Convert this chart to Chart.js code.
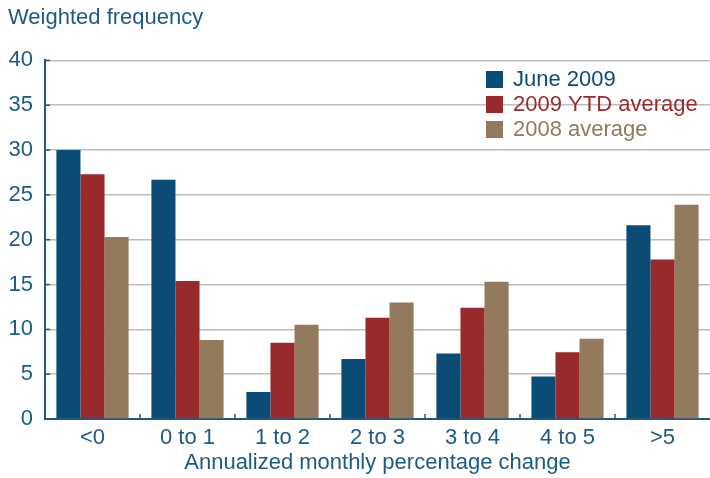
<!DOCTYPE html>
<html lang="en">
<head>
    <meta charset="UTF-8">
    <title>Weighted frequency</title>
    <style>
        html, body {
            margin: 0;
            padding: 0;
            background: #ffffff;
        }
        #wrap {
            position: relative;
            width: 710px;
            height: 478px;
        }
    </style>
    <script src="https://cdn.jsdelivr.net/npm/chart.js"></script>
</head>
<body>
    <div id="wrap">
        <canvas id="freqChart" width="710" height="478"></canvas>
    </div>

    <script>
        // chart data
        const categories = ['<0', '0 to 1', '1 to 2', '2 to 3', '3 to 4', '4 to 5', '>5'];
        const june2009 = [30.0, 26.7, 3.0, 6.7, 7.3, 4.75, 21.6];
        const ytd2009 = [27.3, 15.4, 8.5, 11.3, 12.4, 7.45, 17.8];
        const avg2008 = [20.3, 8.8, 10.5, 13.0, 15.3, 8.95, 23.9];
        const yTicks = [0, 5, 10, 15, 20, 25, 30, 35, 40];

        const textColor = '#1D5A85';
        const axisColor = '#1F5A84';
        const font = { family: '"Liberation Sans", Arial, sans-serif', size: 22 };

        // legend box drawn inside the plot, plus the little axis tick marks
        const extrasPlugin = {
            id: 'extras',
            afterDatasetsDraw(chart) {
                const ctx = chart.ctx;
                const x = chart.scales.x;
                const y = chart.scales.y;
                const area = chart.chartArea;
                ctx.save();

                // y tick marks pointing into the plot
                ctx.strokeStyle = axisColor;
                ctx.lineWidth = 1.5;
                yTicks.forEach(function (v) {
                    const py = y.getPixelForValue(v);
                    ctx.beginPath();
                    ctx.moveTo(area.left, py);
                    ctx.lineTo(area.left + 5, py);
                    ctx.stroke();
                });

                // x tick marks between categories, pointing up
                const step = x.getPixelForValue(1) - x.getPixelForValue(0);
                for (let i = 1; i < categories.length; i++) {
                    const px = x.getPixelForValue(i) - step / 2;
                    ctx.beginPath();
                    ctx.moveTo(px, area.bottom);
                    ctx.lineTo(px, area.bottom - 5);
                    ctx.stroke();
                }

                // legend
                ctx.font = font.size + 'px ' + font.family;
                ctx.textBaseline = 'middle';
                ctx.textAlign = 'left';
                chart.data.datasets.forEach(function (ds, i) {
                    const top = 71 + i * 25;
                    ctx.fillStyle = ds.backgroundColor;
                    ctx.fillRect(486, top, 17, 17);
                    ctx.fillText(ds.label, 513, top + 9);
                });
                ctx.restore();
            }
        };

        const ctx = document.getElementById('freqChart').getContext('2d');
        const freqChart = new Chart(ctx, {
            type: 'bar',
            data: {
                labels: categories,
                datasets: [{
                    label: 'June 2009',
                    data: june2009,
                    backgroundColor: '#0A4C76'
                }, {
                    label: '2009 YTD average',
                    data: ytd2009,
                    backgroundColor: '#982A2C'
                }, {
                    label: '2008 average',
                    data: avg2008,
                    backgroundColor: '#937A5D'
                }]
            },
            options: {
                responsive: false,
                animation: false,
                events: [],
                datasets: {
                    bar: {
                        barPercentage: 1.0,
                        categoryPercentage: 0.76
                    }
                },
                layout: {
                    padding: { left: 8, right: 0, top: 0, bottom: 0 }
                },
                scales: {
                    x: {
                        afterFit(scale) {
                            scale.height = 59;
                        },
                        grid: { display: false, drawTicks: false },
                        border: { display: true, color: axisColor, width: 2 },
                        ticks: {
                            color: textColor,
                            font: font,
                            padding: 6,
                            maxRotation: 0
                        },
                        title: {
                            display: true,
                            text: 'Annualized monthly percentage change',
                            color: textColor,
                            font: font,
                            padding: { top: 0, bottom: 2 }
                        }
                    },
                    y: {
                        min: 0,
                        max: 40,
                        afterBuildTicks(scale) {
                            scale.ticks = yTicks.map(function (v) { return { value: v }; });
                        },
                        afterFit(scale) {
                            scale.width = 37;
                        },
                        grid: {
                            color: '#BDBDBD',
                            lineWidth: 1.5,
                            drawTicks: false
                        },
                        border: { display: true, color: axisColor, width: 2 },
                        ticks: {
                            color: textColor,
                            font: font,
                            padding: 12
                        }
                    }
                },
                plugins: {
                    legend: { display: false },
                    tooltip: { enabled: false },
                    title: {
                        display: true,
                        text: 'Weighted frequency',
                        align: 'start',
                        color: textColor,
                        font: { family: font.family, size: 22, weight: 'normal' },
                        padding: { top: 5, bottom: 29 }
                    }
                }
            },
            plugins: [extrasPlugin]
        });
    </script>
</body>
</html>
